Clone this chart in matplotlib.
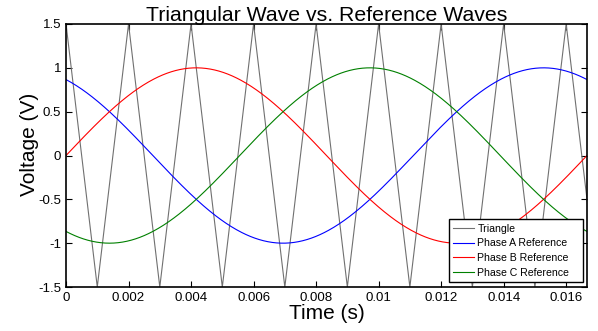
import numpy as np
import matplotlib
matplotlib.use('Agg')
import matplotlib.pyplot as plt

plt.rcParams['font.family'] = ['Liberation Sans', 'DejaVu Sans']

# reference waves: 60 Hz sines, phase in degrees
f_ref = 60.0
fase_A = 120.0
fase_B = 0.0
fase_C = -120.0
amp_ref = 1.0

# triangle carrier: vertices every 0.001 s, +-1.5 V
tri_t = [0.000, 0.001, 0.002, 0.003, 0.004, 0.005, 0.006, 0.007, 0.008,
         0.009, 0.010, 0.011, 0.012, 0.013, 0.014, 0.015, 0.016, 0.017]
tri_v = [1.5, -1.5, 1.5, -1.5, 1.5, -1.5, 1.5, -1.5, 1.5,
         -1.5, 1.5, -1.5, 1.5, -1.5, 1.5, -1.5, 1.5, -1.5]

xticks = [0, 0.002, 0.004, 0.006, 0.008, 0.010, 0.012, 0.014, 0.016]
xticklabels = ['0', '0.002', '0.004', '0.006', '0.008', '0.01', '0.012', '0.014', '0.016']
yticks = [-1.5, -1, -0.5, 0, 0.5, 1, 1.5]
yticklabels = ['-1.5', '-1', '-0.5', '0', '0.5', '1', '1.5']

t = np.linspace(0, 1/60, 600)
def onda(fase):
    return amp_ref*np.sin(2*np.pi*f_ref*t + np.deg2rad(fase))

fig = plt.figure(figsize=(5.98, 3.31), dpi=100)
ax = fig.add_axes([0.1104, 0.1329, 0.8712, 0.7946])

ax.plot(tri_t, tri_v, color='#707070', lw=0.8, label='Triangle')
ax.plot(t, onda(fase_A), color='#0000ff', lw=0.8, label='Phase A Reference')
ax.plot(t, onda(fase_B), color='#ff0000', lw=0.8, label='Phase B Reference')
ax.plot(t, onda(fase_C), color='#008000', lw=0.8, label='Phase C Reference')

ax.set_xlim(0, 1/60)
ax.set_ylim(-1.5, 1.5)
ax.set_xticks(xticks)
ax.set_xticklabels(xticklabels)
ax.set_yticks(yticks)
ax.set_yticklabels(yticklabels)
ax.tick_params(direction='in', top=True, right=True, labelsize=9.5, length=4, width=0.8)
for s in ax.spines.values():
    s.set_linewidth(1.2)

ax.set_title('Triangular Wave vs. Reference Waves', fontsize=15.3, pad=2)
ax.set_xlabel('Time (s)', fontsize=15, labelpad=0)
ax.set_ylabel('Voltage (V)', fontsize=15)
ax.yaxis.set_label_coords(-0.052, 0.542)  # la etiqueta va un poco mas arriba

# legend box placed like the matlab one (extra room on the right)
leg = ax.legend(loc='lower left', bbox_to_anchor=(0.735, 0.019, 0.257, 0.2),
                mode='expand', fontsize=7.6, fancybox=False, framealpha=1,
                edgecolor='black', borderaxespad=0, handlelength=2.0,
                handletextpad=0.3, labelspacing=0.45, borderpad=0.4)
leg.get_frame().set_linewidth(1.0)

fig.savefig('out.png', dpi=100)
